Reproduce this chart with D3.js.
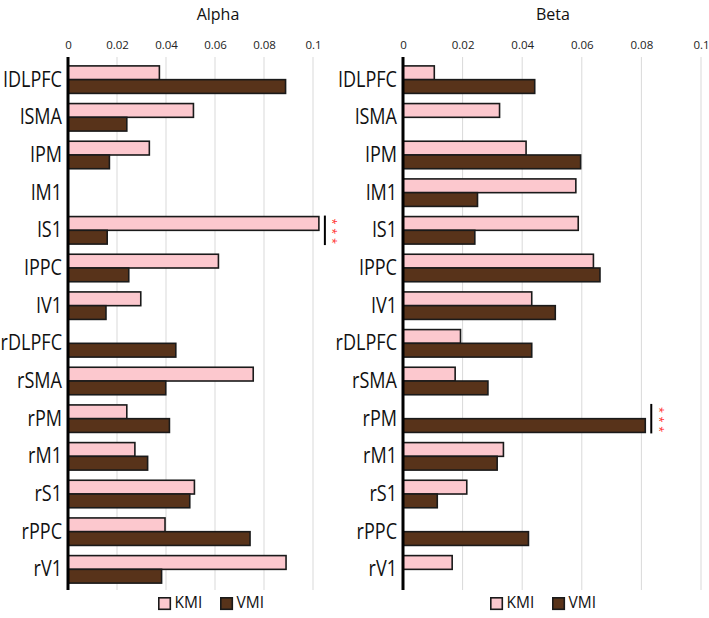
<!DOCTYPE html>
<html><head><meta charset="utf-8">
<script src="https://cdn.jsdelivr.net/npm/d3@7"></script>
<style>body{margin:0;background:#fff}svg{display:block}</style>
</head><body><svg id="c" width="709" height="618"></svg>
<script>
const regions = ["lDLPFC","lSMA","lPM","lM1","lS1","lPPC","lV1","rDLPFC","rSMA","rPM","rM1","rS1","rPPC","rV1"];
const seriesNames = ["KMI","VMI"];
const alphaKMI = [0.0373,0.0512,0.0332,0,0.1024,0.0614,0.0297,0,0.0756,0.024,0.0273,0.0516,0.0396,0.089];
const alphaVMI = [0.0888,0.024,0.0169,0,0.016,0.0248,0.0155,0.044,0.0399,0.0414,0.0325,0.0497,0.0743,0.0382];
const betaKMI = [0.0105,0.0324,0.0413,0.058,0.0588,0.0639,0.0432,0.0193,0.0175,0,0.0337,0.0214,0,0.0165];
const betaVMI = [0.0442,0,0.0596,0.025,0.0241,0.0661,0.0511,0.0432,0.0285,0.0813,0.0316,0.0115,0.0421,0];
const tickValues = [0,0.02,0.04,0.06,0.08,0.1];
const tickLabels = ["0","0.02","0.04","0.06","0.08","0.1"];
const panelTitles = ["Alpha","Beta"];
const significance = [{panel:0, region:"lS1", label:"***"},{panel:1, region:"rPM", label:"***"}];

const colors = {KMI:"#FCC8CE", VMI:"#58331A"};
const svg = d3.select("#c");
const font = "'Open Sans', sans-serif";

const panels = [
  {title:panelTitles[0], kmi:alphaKMI, vmi:alphaVMI, x0:68, x1:313, titleX:218, legendX:158},
  {title:panelTitles[1], kmi:betaKMI, vmi:betaVMI, x0:403, x1:701, titleX:553, legendX:490}
];
const yTop = 61, yBot = 588;
const y = d3.scaleBand().domain(regions).range([yTop, yBot]).paddingInner(0.27).paddingOuter(0.13);
const ySub = d3.scaleBand().domain(seriesNames).range([0, y.bandwidth()]);

panels.forEach((p, pi) => {
  const x = d3.scaleLinear().domain([0, 0.1]).range([p.x0, p.x1]);
  const g = svg.append("g");
  g.selectAll("line.grid").data(tickValues.slice(1)).enter().append("line")
    .attr("x1", d => x(d)).attr("x2", d => x(d)).attr("y1", 57).attr("y2", 590)
    .attr("stroke", "#d9d9d9").attr("stroke-width", 1);
  const ax = d3.axisTop(x).tickValues(tickValues).tickFormat((d,i) => tickLabels[i]).tickSize(0).tickPadding(0);
  const axg = g.append("g").attr("transform", "translate(0,49)").call(ax);
  axg.select(".domain").remove();
  axg.selectAll("text").attr("font-family", font).attr("font-size", 11.5).attr("fill", "#222");
  g.append("text").attr("x", p.titleX).attr("y", 20).attr("text-anchor", "middle")
    .attr("font-family", font).attr("font-size", 16).attr("fill", "#111").text(p.title);
  const rows = regions.map((r, i) => ({r, KMI: p.kmi[i], VMI: p.vmi[i]}));
  seriesNames.forEach(s => {
    g.selectAll("rect." + s).data(rows.filter(d => d[s] > 0)).enter().append("rect")
      .attr("x", x(0)).attr("y", d => y(d.r) + ySub(s))
      .attr("width", d => x(d[s]) - x(0)).attr("height", ySub.bandwidth())
      .attr("fill", colors[s]).attr("stroke", "#1a1a1a").attr("stroke-width", 1.6);
  });
  // category labels, horizontally condensed
  g.selectAll("text.cat").data(regions).enter().append("text")
    .attr("transform", d => `translate(${x(0) - 6},${y(d) + y.bandwidth()/2 + 1.5}) scale(0.86,1)`)
    .attr("text-anchor", "end").attr("dominant-baseline", "middle")
    .attr("font-family", font).attr("font-size", 21).attr("fill", "#111").text(d => d);
  g.append("line").attr("x1", x(0)).attr("x2", x(0)).attr("y1", 57).attr("y2", 590)
    .attr("stroke", "#000").attr("stroke-width", 3);
  const lg = g.append("g").attr("transform", `translate(${p.legendX},597)`);
  seriesNames.forEach((s, i) => {
    const ox = i * 62;
    lg.append("rect").attr("x", ox + 0.8).attr("y", 0.8).attr("width", 11.5).attr("height", 11.5)
      .attr("fill", colors[s]).attr("stroke", "#1a1a1a").attr("stroke-width", 1.6);
    lg.append("text").attr("x", ox + 16.5).attr("y", 7).attr("dominant-baseline", "middle")
      .attr("font-family", font).attr("font-size", 15.5).attr("fill", "#111").text(s);
  });
  significance.filter(s => s.panel === pi).forEach(s => {
    const vals = [p.kmi[regions.indexOf(s.region)], p.vmi[regions.indexOf(s.region)]];
    const xm = x(d3.max(vals)) + 6;
    const yt = y(s.region) - 1, yb = y(s.region) + y.bandwidth() + 1;
    g.append("line").attr("x1", xm).attr("x2", xm).attr("y1", yt).attr("y2", yb)
      .attr("stroke", "#000").attr("stroke-width", 2);
    // stacked asterisks as one rotated text
    g.append("text")
      .attr("transform", `translate(${xm + 4.5},${yt + 3}) rotate(90)`)
      .attr("font-family", font).attr("font-size", 11).attr("letter-spacing", 3.6)
      .attr("fill", "#ff2a2a").text(s.label);
  });
});
</script></body></html>
